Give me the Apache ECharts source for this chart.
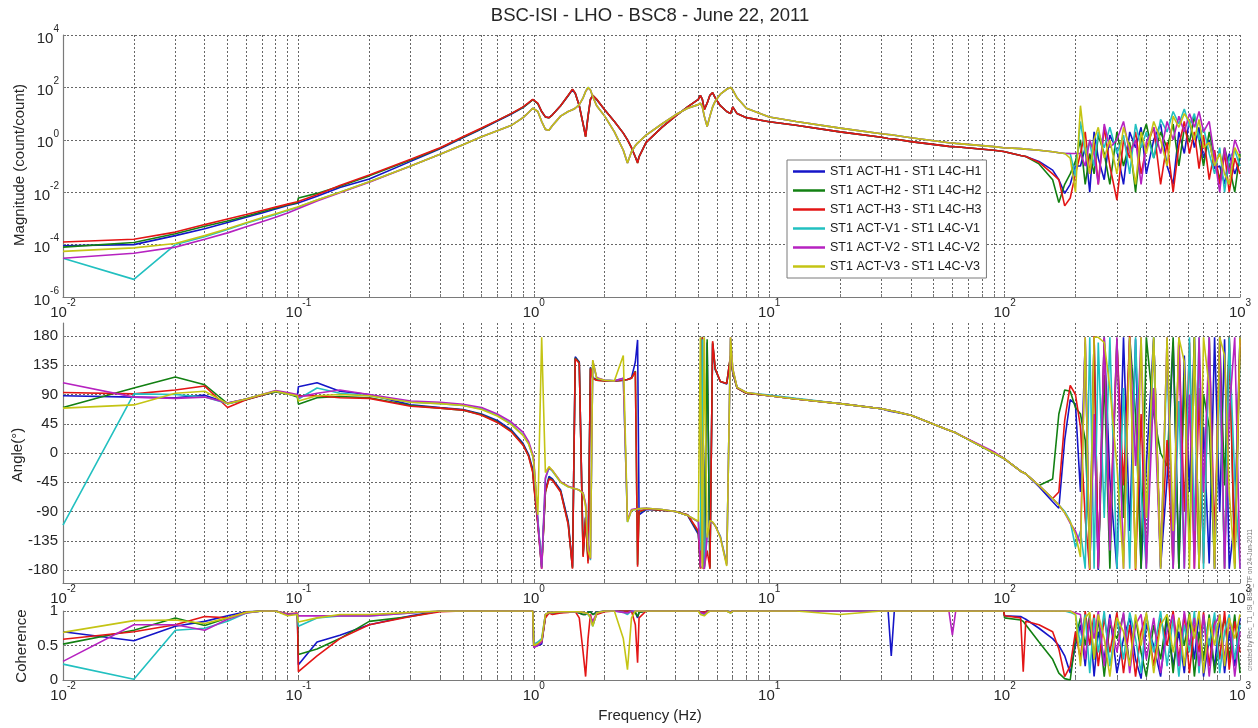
<!DOCTYPE html>
<html><head><meta charset="utf-8">
<script src="https://cdn.jsdelivr.net/npm/echarts@6/dist/echarts.min.js"></script>
<style>html,body{margin:0;padding:0;background:#fff}#c{width:1258px;height:728px}</style>
</head><body><div id="c"></div>
<script>
// ---------------- data ----------------
const freq = [
0.01,0.02,0.03,0.04,0.05,0.06,0.07,0.08,0.09,0.099,
0.1,0.12,0.15,0.2,0.3,0.4,0.5,0.6,0.7,0.8,
0.9,0.95,0.99,1.0,1.04,1.08,1.12,1.16,1.2,1.3,
1.4,1.46,1.5,1.56,1.62,1.66,1.7,1.74,1.78,1.85,
2.0,2.2,2.4,2.5,2.6,2.7,2.76,2.8,3.0,3.5,
4.0,4.5,5.0,5.1,5.2,5.3,5.45,5.6,5.75,5.9,
6.2,6.6,6.85,7.0,7.3,8,10,13,20,30,
32,33,34,40,58,60,62,90,99,100,117,120,123,140,160,170,
180,190,200,210,220,230,240,250,265,280,
300,320,340,360,380,400,430,460,490,520,
550,580,610,640,670,700,740,780,820,860,
900,950,1000];

const seriesNames = ['ST1 ACT-H1 - ST1 L4C-H1','ST1 ACT-H2 - ST1 L4C-H2','ST1 ACT-H3 - ST1 L4C-H3',
                     'ST1 ACT-V1 - ST1 L4C-V1','ST1 ACT-V2 - ST1 L4C-V2','ST1 ACT-V3 - ST1 L4C-V3'];

// magnitude (count/count)
const magH1 = [
9e-5,1e-4,2.2e-4,4e-4,7e-4,1.1e-3,1.6e-3,2.3e-3,3.1e-3,3.8e-3,
4e-3,7e-3,0.015,0.032,0.15,0.45,1.2,2.6,5.2,9.5,
17,25,34,37,24,12,7.5,7,9,20,
48,82,60,20,4,1.4,8,34,48,34,
14,5,1.8,1.0,0.5,0.22,0.14,0.23,0.8,3,
8,18,35,50,35,14,25,50,62,40,
20,12,10,18,10,7,4.9,3.6,2.0,1.25,
1.12,1.1,1.08,0.85,0.56,0.55,0.54,0.4,0.36,0.35,0.25,0.24,0.23,0.15,0.07,0.03,
0.009,0.02,0.1,0.1,0.5,0.01,2,0.2,0.03,1.5,
0.4,0.02,2,0.5,3,0.05,1,4,0.1,0.02,
2,0.3,6,0.5,3,0.2,1,0.08,0.1,0.02,
0.3,0.05,0.2];
const magH2 = [
8e-5,1.2e-4,2.6e-4,5e-4,8e-4,1.2e-3,1.8e-3,2.5e-3,3.3e-3,4e-3,
6e-3,9e-3,0.017,0.042,0.17,0.48,1.25,2.7,5.4,9.8,
17.5,25,34,37,24,12,7.3,6.9,9,20,
49,84,60,20,4,1.3,8,35,50,35,
14,5,1.8,1.0,0.5,0.22,0.13,0.22,0.8,3,
8,18,35,50,35,14,25,50,63,40,
20,12,10,18,10,7,4.9,3.6,2.0,1.25,
1.12,1.1,1.08,0.85,0.56,0.55,0.54,0.4,0.36,0.35,0.25,0.24,0.23,0.12,0.03,0.004,
0.02,0.05,0.15,1,0.02,0.3,0.05,1.5,0.3,0.02,
2,0.1,0.8,0.01,1,4,0.2,2,0.5,4,
0.1,3,0.8,8,1,0.1,2,0.2,0.03,0.5,
0.1,0.01,0.3];
const magH3 = [
1.25e-4,1.6e-4,3e-4,5.8e-4,9.5e-4,1.4e-3,2e-3,2.7e-3,3.5e-3,4.3e-3,
4.5e-3,8e-3,0.018,0.045,0.18,0.5,1.3,2.8,5.5,10,
18,26,35,38,25,12,7.5,7,9,20,
50,85,60,20,4,1.3,8,35,50,35,
14,5,1.8,1.0,0.5,0.22,0.13,0.22,0.8,3,
8,18,35,50,35,14,25,50,63,40,
20,12,10,18,10,7,4.9,3.6,2.0,1.25,
1.12,1.1,1.08,0.85,0.56,0.55,0.54,0.4,0.36,0.35,0.25,0.24,0.23,0.14,0.05,0.03,
0.003,0.006,0.05,0.3,2,0.05,0.8,0.02,3,0.1,
0.005,1,0.2,2,0.05,0.5,3,0.02,0.8,0.01,
0.6,5,0.3,2,0.08,1.5,0.03,0.4,0.02,0.3,
0.01,0.2,0.05];
const magV1 = [
3e-5,4.7e-6,1e-4,2e-4,3.8e-4,6.5e-4,1e-3,1.4e-3,2e-3,2.6e-3,
2.8e-3,5e-3,0.01,0.025,0.1,0.28,0.65,1.3,2.2,3.5,
7,11,16,18,12,5,2.5,2.3,3.5,8,
12,14,16,22,40,70,100,80,45,20,
8,2,0.4,0.13,0.35,0.6,0.75,0.85,1.5,4,
9,16,22,25,18,8,3.2,8,18,30,
55,85,100,80,40,16,7.4,5,2.8,1.7,
1.6,1.55,1.5,1.2,0.77,0.75,0.73,0.55,0.5,0.5,0.46,0.45,0.44,0.4,0.35,0.32,
0.3,0.3,0.04,5,0.3,0.8,0.1,2,0.5,3,
0.3,1.5,0.05,4,0.5,2,0.2,6,2,12,
4,15,3,10,1,3,0.3,0.05,0.5,0.01,
0.2,0.4,0.1];
const magV2 = [
3e-5,4.7e-5,8e-5,1.6e-4,2.8e-4,4.8e-4,7.5e-4,1.1e-3,1.6e-3,2.3e-3,
2.6e-3,4.6e-3,9.5e-3,0.024,0.1,0.28,0.65,1.3,2.2,3.5,
7,11,16,18,12,5,2.5,2.3,3.5,8,
12,14,16,22,40,70,95,80,45,20,
8,2,0.4,0.13,0.35,0.6,0.75,0.85,1.5,4,
9,16,22,25,18,8,3.2,8,18,30,
55,85,100,80,40,16,7.4,5,2.8,1.7,
1.6,1.55,1.5,1.2,0.77,0.75,0.73,0.55,0.5,0.5,0.46,0.45,0.44,0.4,0.35,0.32,
0.3,0.3,0.3,0.3,0.1,1,0.3,0.02,4,0.5,
1,5,0.3,1,0.02,0.8,3,0.3,5,1,
8,2,10,3,12,2,5,0.2,0.01,0.5,
0.05,1,0.3];
const magV3 = [
5.5e-5,7.5e-5,1.1e-4,2.2e-4,4e-4,6.8e-4,1.05e-3,1.5e-3,2.1e-3,2.7e-3,
2.8e-3,5e-3,0.01,0.025,0.1,0.28,0.65,1.3,2.2,3.5,
7,11,16,18,12,5,2.5,2.3,3.5,8,
12,14,16,22,40,70,100,80,45,20,
8,2,0.4,0.13,0.35,0.6,0.75,0.85,1.5,4,
9,16,22,25,18,8,3.2,8,18,30,
55,85,100,80,40,16,7.4,5,2.8,1.7,
1.6,1.55,1.5,1.2,0.77,0.75,0.73,0.55,0.5,0.5,0.46,0.45,0.44,0.4,0.35,0.32,
0.3,0.2,0.01,20,0.5,0.05,1,3,0.2,1,
0.05,3,0.5,0.02,2,0.3,5,1,0.1,8,
3,10,5,1,6,0.5,0.8,0.1,0.3,0.05,
0.02,0.5,0.2];

// phase (degrees)
const phH1 = [
88,86,85,89,77,83,89,94,92,88,
102,108,95,90,74,70,67,60,50,36,
15,-2,-25,-45,-105,-172,-58,-36,-40,-57,
-105,-175,148,140,-155,-98,-162,132,116,113,
112,111,112,113,116,140,174,-95,-87,-88,
-90,-96,-125,-170,176,-178,170,-175,168,128,
110,106,148,124,100,92,88,83,76,68,
65,64,63,58,35,33,31,0,-8,-10,-28,-30,-32,-52,-75,-85,
20,82,75,-60,170,-178,60,-180,178,-40,
-178,178,-120,175,-178,-20,178,-175,-40,170,
-178,150,-60,178,-178,40,-170,178,-90,175,
-178,-100,178];
const phH2 = [
70,100,117,105,76,82,89,94,91,86,
75,85,87,85,73,69,66,59,48,34,
13,-4,-28,-48,-108,-176,-60,-39,-41,-59,
-108,-177,146,139,-158,-100,-166,131,115,112,
111,111,112,113,115,126,-172,-91,-86,-88,
-90,-95,-122,-176,179,-170,175,-178,170,129,
110,107,149,125,100,92,88,83,76,68,
66,65,64,58,35,33,31,0,-8,-10,-28,-30,-32,-50,-40,60,
97,95,70,60,20,-150,178,-178,120,-178,
175,-100,178,60,-178,178,60,0,-20,178,
-178,120,-150,178,-178,90,40,-178,178,-50,
178,-178,160];
const phH3 = [
93,91,97,103,70,82,89,95,91,88,
87,88,85,84,72,69,66,58,47,33,
12,-5,-30,-50,-110,-178,-60,-40,-42,-60,
-110,-178,145,138,-160,-100,-170,130,115,112,
111,111,112,113,115,125,-175,-90,-86,-88,
-90,-95,-120,-178,178,-175,-150,-178,172,130,
110,107,150,125,100,92,88,83,76,68,
66,65,64,58,35,33,31,0,-8,-10,-28,-30,-32,-50,-70,-60,
50,104,90,40,-100,-180,180,-175,175,-120,
170,-50,180,-180,60,-170,175,-160,20,-178,
178,-90,170,-178,100,-170,178,-130,160,-178,
178,-170,175];
const phV1 = [
-111,91,90,86,76,83,90,95,91,88,
83,100,92,88,78,76,73,68,58,45,
28,15,-5,-15,-100,-175,-40,-23,-28,-45,
-52,-54,-55,-57,-62,-80,-140,-165,140,115,
112,111,115,-106,-88,-87,-86,-86,-85,-87,
-90,-96,-106,-150,175,-178,-125,-106,-107,-112,
-128,-170,176,128,101,93,89,84,76,68,
66,65,64,58,35,33,31,0,-8,-10,-28,-30,-32,-50,-70,-80,
-90,-105,-145,-120,-178,178,-178,170,-100,178,
-178,100,-178,178,-60,-178,178,-178,150,-178,
80,-178,178,-120,178,-178,178,-178,120,-178,
178,-40,-178];
const phV2 = [
108,86,84,86,77,83,90,96,93,90,
86,92,97,90,80,78,75,70,60,48,
32,18,-2,-10,-105,-178,-38,-22,-27,-44,
-51,-53,-55,-57,-61,-78,-138,-163,142,116,
112,111,115,-104,-87,-86,-86,-86,-85,-87,
-90,-96,-106,-175,-178,-178,-128,-105,-107,-112,
-129,-172,178,130,101,93,88,83,76,68,
66,65,64,58,35,33,31,2,-8,-10,-28,-30,-32,-50,-70,-80,
-92,-108,-120,-140,178,-178,60,-178,178,-150,
178,-178,178,-20,178,-178,100,-178,178,-178,
178,-178,90,-178,178,-60,178,-178,178,-178,
60,178,-178];
const phV3 = [
69,74,92,95,76,83,90,95,91,88,
80,88,90,88,78,76,73,67,57,44,
27,14,-5,-15,-95,178,-30,-21,-27,-45,
-52,-54,-55,-57,-62,-82,-150,-162,143,115,
112,111,150,-106,-88,-87,-86,-86,-85,-87,
-90,-96,-105,178,-178,178,-130,-104,-106,-112,
-130,-174,178,130,101,93,88,83,76,68,
66,65,64,58,35,33,31,0,-8,-10,-28,-30,-32,-50,-70,-80,
-92,-106,-125,-160,178,-178,178,178,170,100,
-20,-178,178,-178,178,-100,178,-178,178,-120,
178,140,-178,178,-178,178,100,-178,178,150,
-60,-178,178];

// coherence
const cohH1 = [
0.7,0.57,0.78,0.85,0.93,0.99,1,1,0.95,0.96,
0.22,0.55,0.65,0.8,0.93,1,1,1,1,1,
1,1,1,0.48,0.5,0.52,0.92,0.98,0.97,0.98,
0.99,0.99,0.99,0.97,0.95,0.95,0.98,0.99,0.95,0.98,
1,1,1,1,1,0.98,0.9,0.98,1,1,
1,1,1,0.99,1,0.98,1,1,1,1,
1,1,0.99,1,1,1,1,1,1,1,
1,0.35,1,1,1,1,1,1,1,0.93,0.92,0.9,0.88,0.75,0.6,0.5,
0.35,0.1,0.5,0.8,0.2,0.9,0.05,0.7,0.3,0.95,
0.1,0.6,0.9,0.3,0.02,0.8,0.5,0.05,0.9,0.2,
0.7,0.1,0.9,0.3,0.95,0.05,0.6,0.2,0.9,0.1,
0.7,0.2,0.9];
const cohH2 = [
0.52,0.72,0.9,0.79,0.9,0.98,1,1,0.95,0.96,
0.37,0.45,0.6,0.85,0.92,1,1,1,1,1,
1,1,1,0.5,0.52,0.55,0.92,0.98,0.97,0.98,
0.99,0.99,0.99,0.97,0.95,0.95,0.98,0.99,0.95,0.98,
1,1,1,1,1,0.98,0.92,0.98,1,1,
1,1,1,0.99,1,0.98,1,1,1,1,
1,1,0.99,1,1,1,1,1,1,1,
1,1,1,1,1,1,1,1,1,0.9,0.87,0.85,0.8,0.55,0.3,0.1,
0.02,0,0.6,0.9,0.5,0.95,0.3,0.9,0.05,0.8,
0.6,0.95,0.2,0.9,0.4,0.05,0.8,0.3,0.95,0.1,
0.9,0.5,0.98,0.05,0.7,0.3,0.95,0.1,0.6,0.9,
0.3,0.95,0.1];
const cohH3 = [
0.59,0.7,0.8,0.92,0.9,0.98,1,1,0.96,0.97,
0.12,0.35,0.6,0.8,0.92,0.99,1,1,1,1,
1,1,1,0.5,0.52,0.55,0.9,0.97,0.95,0.97,
0.98,0.99,0.99,0.9,0.4,0.05,0.6,0.95,0.8,0.95,
0.99,1,1,1,1,0.8,0.25,0.9,1,1,
1,1,1,0.99,1,0.98,1,1,1,1,
1,1,0.98,1,1,1,1,1,1,1,
1,1,1,1,1,1,1,1,1,0.93,0.9,0.12,0.85,0.8,0.7,0.45,
0.05,0.2,0.7,0.3,1,0.5,0.95,0.2,0.9,0.4,
0.98,0.1,0.8,0.05,0.7,0.95,0.2,0.9,0.5,1,
0.3,0.95,0.1,0.8,0.4,0.98,0.2,0.9,0.3,1,
0.15,0.85,0.4];
const cohV1 = [
0.23,0.01,0.72,0.75,0.85,0.97,1,1,0.95,0.96,
0.78,0.9,0.93,0.93,0.97,1,1,1,1,1,
1,1,1,0.52,0.55,0.6,0.95,0.98,0.98,0.99,
0.99,0.99,0.99,0.99,0.98,0.97,0.95,0.9,0.78,0.97,
1,1,0.98,0.95,1,1,1,1,1,1,
1,1,1,0.97,0.98,0.95,0.98,1,1,1,
1,1,0.97,1,1,1,1,1,1,1,
1,1,1,1,1,1,1,1,1,1,1,1,1,1,1,1,
1,0.98,0.95,0.5,0.95,0.1,0.9,0.4,1,0.2,
0.9,0.3,0.98,0.6,0.1,0.95,0.4,1,0.2,0.9,
0.05,0.8,0.4,1,0.1,0.9,0.5,0.98,0.1,0.7,
0.95,0.3,0.8];
const cohV2 = [
0.27,0.8,0.8,0.72,0.88,0.97,1,1,0.95,0.96,
0.93,0.93,0.93,0.93,0.97,1,1,1,1,1,
1,1,1,0.47,0.5,0.55,0.95,0.98,0.98,0.99,
0.99,0.99,0.99,0.99,0.98,0.97,0.96,0.92,0.85,0.97,
1,1,0.98,0.97,1,1,1,1,1,1,
1,1,1,0.98,0.97,0.96,0.98,1,1,1,
1,1,0.98,1,1,1,1,1,1,1,
1,1,1,1,1,0.65,1,1,1,1,1,1,1,1,1,1,
1,1,0.97,0.95,0.3,0.9,0.6,1,0.2,0.9,
0.4,0.98,0.1,0.8,0.95,0.3,0.9,0.1,0.7,0.95,
0.2,1,0.5,0.9,0.2,0.95,0.05,0.8,0.95,0.3,
0.9,0.05,0.7];
const cohV3 = [
0.69,0.86,0.87,0.82,0.9,0.98,1,1,0.93,0.95,
0.84,0.9,0.95,0.95,0.98,1,1,1,1,1,
1,1,1,0.5,0.53,0.58,0.95,0.98,0.98,0.99,
0.99,0.99,0.99,0.99,0.98,0.97,0.96,0.9,0.78,0.97,
1,1,0.6,0.15,0.9,1,1,1,1,1,
1,1,1,0.95,0.97,0.93,0.97,1,1,1,
1,1,0.97,1,1,1,1,1,0.95,1,
1,1,1,1,1,1,1,1,1,1,1,1,1,1,1,1,
1,1,0.95,0.2,0.9,0.98,0.3,0.95,0.6,0.05,
0.9,0.7,0.2,0.95,0.5,0.98,0.1,0.8,0.95,0.4,
0.9,0.2,0.95,0.6,1,0.1,0.9,0.5,0.95,0.2,
0.9,0.6,0.95];

// tick labels
const xTickValues = [0.01,0.1,1,10,100,1000];
const magTickValues = [1e-6,1e-4,1e-2,1,1e2,1e4];
const angleTickValues = [-180,-135,-90,-45,0,45,90,135,180];
const cohTickValues = [0,0.5,1];

// ---------------- chart ----------------
const colors = ['#1515c8','#128012','#e31515','#22c0c0','#b622c0','#c4c414'];
const FONT = "'Liberation Sans', Arial, sans-serif";
const TXT = '#262626';
const magData = [magH1,magH2,magH3,magV1,magV2,magV3];
const phData = [phH1,phH2,phH3,phV1,phV2,phV3];
const cohData = [cohH1,cohH2,cohH3,cohV1,cohV2,cohV3];

const xGridValues = [];
[0.01,0.1,1,10,100].forEach(d => { for (let k = 1; k <= 9; k++) xGridValues.push(+(k*d).toPrecision(3)); });
xGridValues.push(1000);

function powLabel(v){ const e = Math.round(Math.log10(v)); return '{b|10}{e|' + e + '}'; }
const powRich = {
  b:{fontSize:15, fontFamily:FONT, color:TXT, lineHeight:22, verticalAlign:'bottom'},
  e:{fontSize:10, fontFamily:FONT, color:TXT, lineHeight:12, verticalAlign:'top'}
};
const gridLine = {show:true, lineStyle:{color:'#666', width:1, type:[2,2]}};
const axLine = {show:true, onZero:false, lineStyle:{color:'#7a7a7a', width:1.2}};

function xAxisFor(i){
  return {
    type:'log', logBase:10, gridIndex:i, min:0.01, max:1000,
    axisLine:axLine,
    axisTick:{show:true, inside:true, length:3, customValues:xGridValues, lineStyle:{color:'#7a7a7a'}},
    axisLabel:{show:true, customValues:xTickValues, margin:1, formatter:powLabel, rich:powRich, hideOverlap:false},
    splitLine:gridLine, minorTick:{show:false}, minorSplitLine:{show:false}
  };
}
const grids = [
  {left:63, right:18, top:35, height:262},
  {left:63, right:18, top:323, height:260},
  {left:63, right:18, top:611, height:69}
];
const yAxes = [
  {type:'log', logBase:10, gridIndex:0, min:1e-6, max:1e4, axisLine:axLine,
   axisTick:{show:true, inside:true, length:3, customValues:magTickValues, lineStyle:{color:'#7a7a7a'}},
   axisLabel:{customValues:magTickValues, formatter:powLabel, rich:powRich, margin:4, hideOverlap:false},
   splitLine:gridLine},
  {type:'value', gridIndex:1, min:-200, max:200, axisLine:axLine,
   axisTick:{show:true, inside:true, length:3, customValues:angleTickValues, lineStyle:{color:'#7a7a7a'}},
   axisLabel:{customValues:angleTickValues, fontSize:15, fontFamily:FONT, color:TXT, margin:5, hideOverlap:false},
   splitLine:gridLine},
  {type:'value', gridIndex:2, min:0, max:1, axisLine:axLine,
   axisTick:{show:true, inside:true, length:3, customValues:cohTickValues, lineStyle:{color:'#7a7a7a'}},
   axisLabel:{customValues:cohTickValues, fontSize:15, fontFamily:FONT, color:TXT, margin:5, hideOverlap:false},
   splitLine:gridLine}
];
const series = [];
[magData, phData, cohData].forEach((set, p) => {
  set.forEach((arr, s) => {
    series.push({
      type:'line', name:seriesNames[s], xAxisIndex:p, yAxisIndex:p,
      data: freq.map((f, i) => [f, arr[i]]),
      showSymbol:false, symbol:'none', silent:true, clip:true,
      lineStyle:{width:1.6, color:colors[s]}, itemStyle:{color:colors[s]}
    });
  });
});

const chart = echarts.init(document.getElementById('c'), null, {renderer:'canvas'});
chart.setOption({
  animation:false,
  backgroundColor:'#fff',
  grid:grids,
  xAxis:[xAxisFor(0), xAxisFor(1), xAxisFor(2)],
  yAxis:yAxes,
  legend:{data:seriesNames, orient:'vertical', left:787, top:160, itemWidth:32, itemHeight:2.5, itemGap:6,
    icon:'rect', padding:[5,5,5,6], backgroundColor:'#fff', borderColor:'#7a7a7a', borderWidth:1, borderRadius:0,
    selectedMode:false, textStyle:{fontSize:12.5, color:'#1a1a1a', fontFamily:FONT}},
  series:series,
  graphic:[
    {type:'text', x:650, y:16, style:{text:'BSC-ISI - LHO - BSC8 - June 22, 2011', font:'18.5px '+FONT, fill:TXT, align:'center', verticalAlign:'middle'}},
    {type:'text', x:20, y:165, rotation:Math.PI/2, style:{text:'Magnitude (count/count)', font:'15px '+FONT, fill:TXT, align:'center', verticalAlign:'middle'}},
    {type:'text', x:18, y:455, rotation:Math.PI/2, style:{text:'Angle(°)', font:'15px '+FONT, fill:TXT, align:'center', verticalAlign:'middle'}},
    {type:'text', x:22, y:646, rotation:Math.PI/2, style:{text:'Coherence', font:'15px '+FONT, fill:TXT, align:'center', verticalAlign:'middle'}},
    {type:'text', x:650, y:716, style:{text:'Frequency (Hz)', font:'15px '+FONT, fill:TXT, align:'center', verticalAlign:'middle'}},
    {type:'text', x:1250, y:600, rotation:Math.PI/2, style:{text:'created by Rec_T1_ISI_BSC_TF on 24-Jun-2011', font:'6.5px '+FONT, fill:'#777', align:'center', verticalAlign:'middle'}}
  ]
});
</script>
</body></html>
